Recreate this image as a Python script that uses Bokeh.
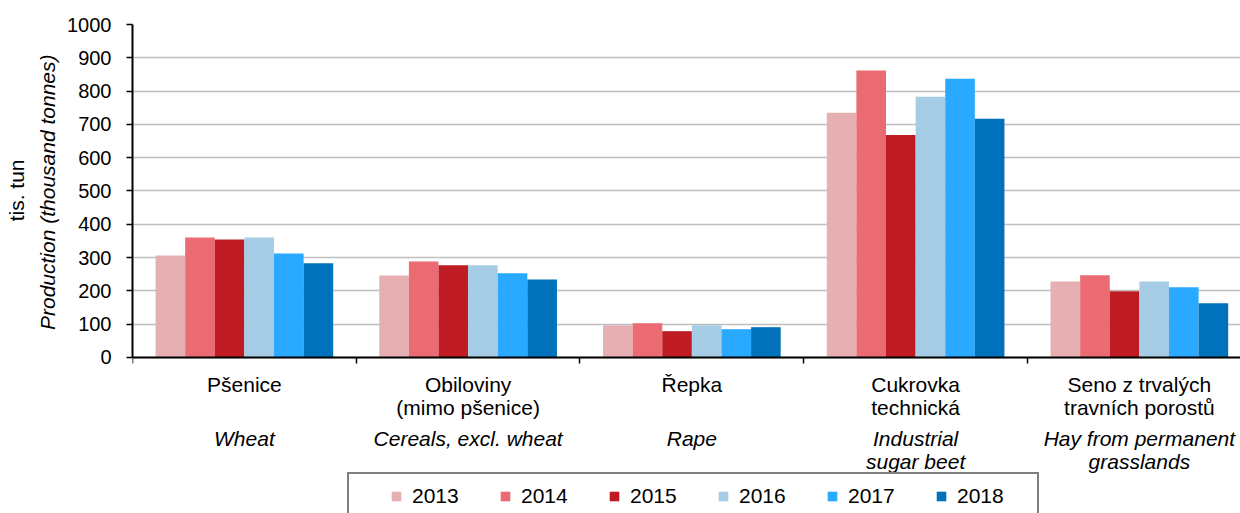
from bokeh.plotting import figure
from bokeh.models import Range1d, FixedTicker, Label, Legend, LegendItem, Title
from bokeh.embed import file_html
from bokeh.resources import INLINE

# ---- data ----
categories_cz = [["Pšenice"], ["Obiloviny", "(mimo pšenice)"], ["Řepka"],
                 ["Cukrovka", "technická"], ["Seno z trvalých", "travních porostů"]]
categories_en = [["Wheat"], ["Cereals, excl. wheat"], ["Rape"],
                 ["Industrial", "sugar beet"], ["Hay from permanent", "grasslands"]]
years = ["2013", "2014", "2015", "2016", "2017", "2018"]
v2013 = [306, 246, 97, 735, 228]
v2014 = [360, 288, 103, 862, 247]
v2015 = [354, 277, 79, 668, 199]
v2016 = [360, 277, 97, 783, 228]
v2017 = [312, 253, 85, 837, 211]
v2018 = [283, 234, 91, 717, 163]
series = [v2013, v2014, v2015, v2016, v2017, v2018]
colors = ["#E6AFB2", "#EA6C72", "#BE1B22", "#A6CCE6", "#29A9FF", "#0072BC"]
yticks = list(range(0, 1001, 100))

FONT = "Liberation Sans"
FS_TICK = "20px"
FS = "21px"

# frame spans from the top of the value axis down to the bottom of the page,
# so the category labels and legend live inside it
p = figure(width=1240, height=513, x_range=Range1d(0, 4.952), y_range=Range1d(-468.5, 1000),
           output_backend="svg", toolbar_location=None,
           min_border_left=132, min_border_right=0, min_border_top=24, min_border_bottom=0)
p.outline_line_color = None
p.background_fill_color = "white"
p.border_fill_color = "white"

# bars
ncat = len(categories_cz)
group_margin = 0.103
bw = (1 - 2 * group_margin) / len(years)
renderers = []
for j, (vals, col) in enumerate(zip(series, colors)):
    xs = [i + group_margin + (j + 0.5) * bw for i in range(ncat)]
    r = p.vbar(x=xs, top=vals, bottom=0, width=bw, fill_color=col, line_color=None)
    renderers.append(r)

# y axis
p.yaxis.bounds = (0, 1000)
p.yaxis.ticker = FixedTicker(ticks=yticks)
p.yaxis.major_tick_out = 6
p.yaxis.major_tick_in = 0
p.yaxis.minor_tick_line_color = None
p.yaxis.axis_line_width = 2
p.yaxis.axis_line_color = "black"
p.yaxis.major_tick_line_color = "black"
p.yaxis.major_tick_line_width = 1.5
p.yaxis.major_label_text_font = FONT
p.yaxis.major_label_text_font_size = FS_TICK
p.yaxis.major_label_text_color = "black"
p.yaxis.major_label_standoff = 15

# y axis titles (left panel), anchored at the top of the value axis
p.add_layout(Title(text="Production (thousand tonnes)", align="right", offset=30,
                   text_font=FONT, text_font_size=FS, text_font_style="italic",
                   text_color="black", standoff=12), "left")
p.add_layout(Title(text="tis. tun", align="right", offset=135,
                   text_font=FONT, text_font_size=FS, text_font_style="normal",
                   text_color="black", standoff=0), "left")

# x axis at value 0
p.xaxis.fixed_location = 0
p.xaxis.ticker = FixedTicker(ticks=list(range(ncat + 1)))
p.xaxis.major_label_overrides = {i: "" for i in range(ncat + 1)}
p.xaxis.major_label_text_font_size = "0px"
p.xaxis.major_tick_out = 6
p.xaxis.major_tick_in = 0
p.xaxis.minor_tick_line_color = None
p.xaxis.axis_line_width = 2
p.xaxis.axis_line_color = "black"
p.xaxis.major_tick_line_color = "black"
p.xaxis.major_tick_line_width = 1.5

p.xgrid.grid_line_color = None
p.ygrid.ticker = FixedTicker(ticks=yticks)
p.ygrid.grid_line_color = "#BFBFBF"
p.ygrid.grid_line_width = 1.5

# category labels (screen y measured from the bottom of the frame = page bottom)
for i in range(ncat):
    for k, line in enumerate(categories_cz[i]):
        p.add_layout(Label(x=i + 0.5, y=129 - 23 * k, y_units="screen", text=line,
                           text_font=FONT, text_font_size=FS, text_align="center",
                           text_baseline="middle", text_color="black"))
    for k, line in enumerate(categories_en[i]):
        p.add_layout(Label(x=i + 0.5, y=75 - 23 * k, y_units="screen", text=line,
                           text_font=FONT, text_font_size=FS, text_font_style="italic",
                           text_align="center", text_baseline="middle", text_color="black"))

# legend
items = [LegendItem(label=y, renderers=[r]) for y, r in zip(years, renderers)]
legend = Legend(items=items, orientation="horizontal", location=(215, -7),
                padding=10, spacing=17, glyph_width=12, glyph_height=12,
                label_standoff=10, label_width=70, label_height=20,
                label_text_font=FONT, label_text_font_size=FS, label_text_color="black",
                border_line_color="black", border_line_width=2,
                background_fill_color="white", background_fill_alpha=1,
                title=" ", title_location="left", title_standoff=30,
                title_text_font_size="1px", margin=0)
p.add_layout(legend, "center")

open("out.html", "w").write(file_html(p, INLINE))
